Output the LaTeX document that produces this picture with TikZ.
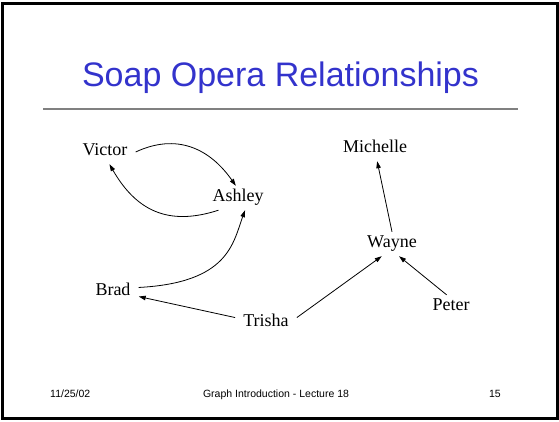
\documentclass[tikz,border=0pt]{standalone}
\usepackage{fontspec}
\setmainfont{Liberation Serif}
\newfontfamily\arialfont{Liberation Sans}
\usepackage{tikz}
\usetikzlibrary{arrows.meta}
\newcommand{\relarrow}{-{Triangle[length=7pt,width=4.5pt]}}
\definecolor{titleblue}{RGB}{51,51,204}

\begin{document}
\begin{tikzpicture}[x=1pt,y=1pt,
    person/.style={font=\fontsize{18}{20}\selectfont,inner xsep=8pt,inner ysep=4pt,text height=12pt,text depth=4pt,anchor=base},
    footer/.style={font=\arialfont\fontsize{10.5}{12}\selectfont},
    rel/.style={line width=0.8pt}]
            \useasboundingbox (0,0) rectangle (559,422);
            \draw[line width=3pt] (2.5,3.5) rectangle (557.5,418.5);
            \node[anchor=base,text=titleblue,font=\arialfont\fontsize{34}{40}\selectfont] (title) at (280.5,335) {Soap Opera Relationships};
            \draw[line width=1.5pt,gray] (43,313) -- (518,313);
            \node[person] (victor) at (105,266) {Victor};
            \node[person] (ashley) at (238,220) {Ashley};
            \node[person] (brad) at (113,126) {Brad};
            \node[person] (trisha) at (266,95) {Trisha};
            \node[person] (michelle) at (375,269) {Michelle};
            \node[person] (wayne) at (392,174) {Wayne};
            \node[person] (peter) at (451,111) {Peter};
            \draw[rel,\relarrow] (victor.east) to[out=25,in=125,looseness=1.1] (ashley.100);
            \draw[rel,\relarrow] (ashley.212) to[out=198,in=-60,looseness=1.15] (victor.-70);
            \draw[rel,\relarrow] (brad.10) to[out=3,in=-110,out distance=90pt,in distance=35pt] (ashley.-60);
            \draw[rel,\relarrow] (trisha.170) -- (brad.-10);
            \draw[rel,\relarrow] (trisha.10) -- (wayne.-130);
            \draw[rel,\relarrow] (wayne.north) -- (michelle.-80);
            \draw[rel,\relarrow] (peter.110) -- (wayne.-60);
            \node[footer,anchor=base west,inner sep=0pt] (date) at (50,24) {11/25/02};
            \node[footer,anchor=base] (lecture) at (276,24) {Graph Introduction - Lecture 18};
            \node[footer,anchor=base east,inner sep=0pt] (page) at (501,24) {15};
        \end{tikzpicture}
\end{document}
